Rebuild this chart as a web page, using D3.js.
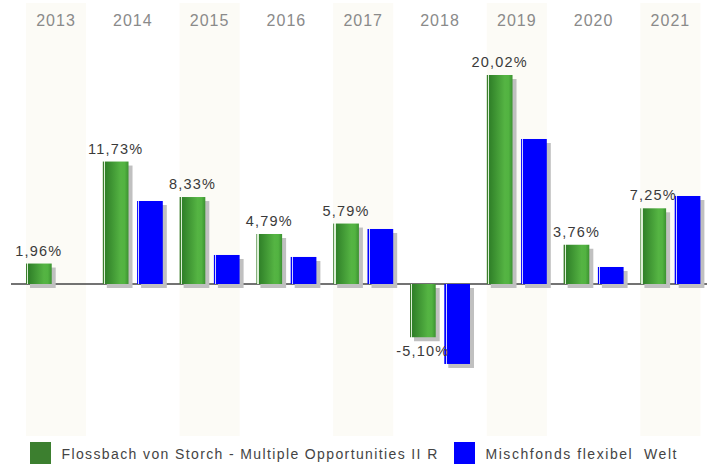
<!DOCTYPE html>
<html>
<head>
<meta charset="utf-8">
<script src="https://cdn.jsdelivr.net/npm/d3@7"></script>
<style>
  body { margin: 0; background: #fff; }
  text { font-family: "Liberation Sans", Arial, sans-serif; }
</style>
</head>
<body>
<div id="chart"></div>
<script>
// values (blue series has no 2013 value)
const years = ["2013", "2014", "2015", "2016", "2017", "2018", "2019", "2020", "2021"];
const fundValues = [1.96, 11.73, 8.33, 4.79, 5.79, -5.10, 20.02, 3.76, 7.25];
const peerValues = [null, 7.95, 2.78, 2.59, 5.27, -7.66, 13.89, 1.63, 8.43];
const seriesNames = ["Flossbach von Storch - Multiple Opportunities II R", "Mischfonds flexibel  Welt"];

const width = 707, height = 464;

const svg = d3.select("#chart").append("svg")
    .attr("width", width)
    .attr("height", height);

const defs = svg.append("defs");

// green bar: dark edge, thin light stripe, then shaded cylinder look
const gGreen = defs.append("linearGradient").attr("id", "gradGreen");
[["0%", "#3b7f2c"], ["4%", "#3b7f2c"], ["4.1%", "#dcefd6"], ["9%", "#dcefd6"],
 ["9.1%", "#2f7f28"], ["70%", "#55b443"], ["85%", "#52b341"], ["100%", "#3c9231"]]
  .forEach(s => gGreen.append("stop").attr("offset", s[0]).attr("stop-color", s[1]));

const gBlue = defs.append("linearGradient").attr("id", "gradBlue");
[["0%", "#0000ff"], ["5%", "#0000ff"], ["5.1%", "#d0d0ff"], ["9%", "#d0d0ff"],
 ["9.1%", "#0000ff"], ["100%", "#0000ff"]]
  .forEach(s => gBlue.append("stop").attr("offset", s[0]).attr("stop-color", s[1]));

const x0 = d3.scaleBand()
    .domain(years)
    .range([26, 700.4])
    .paddingInner(0.21875)
    .paddingOuter(0);

const x1 = d3.scaleBand()
    .domain([0, 1])
    .range([0, x0.bandwidth()])
    .paddingInner(0.25);

const y = d3.scaleLinear()
    .domain([-14, 22])
    .range([284 + 14 * 10.44, 284 - 22 * 10.44]);

// shaded columns every other year
svg.append("g")
  .selectAll("rect")
  .data(years.filter((d, i) => i % 2 === 0))
  .enter().append("rect")
    .attr("x", d => x0(d))
    .attr("y", 3)
    .attr("width", x0.bandwidth())
    .attr("height", 433)
    .attr("fill", "#fcfbf6");

// year labels on top
svg.append("g")
  .selectAll("text")
  .data(years)
  .enter().append("text")
    .attr("x", d => x0(d) + x0.bandwidth() / 2)
    .attr("y", 26)
    .attr("text-anchor", "middle")
    .style("font-size", "16px")
    .style("letter-spacing", "1px")
    .style("fill", "#8a8a8a")
    .text(d => d);

// zero line
svg.append("line")
    .attr("x1", 11).attr("x2", 707)
    .attr("y1", y(0)).attr("y2", y(0))
    .attr("stroke", "#444")
    .attr("stroke-width", 1.6);

const rows = [];
years.forEach((yr, i) => {
  rows.push({ year: yr, s: 0, v: fundValues[i] });
  if (peerValues[i] !== null) rows.push({ year: yr, s: 1, v: peerValues[i] });
});

// shadows
svg.append("g")
  .selectAll("rect")
  .data(rows)
  .enter().append("rect")
    .attr("x", d => x0(d.year) + x1(d.s) + 4)
    .attr("y", d => Math.min(y(d.v), y(0)) + 4)
    .attr("width", x1.bandwidth())
    .attr("height", d => Math.abs(y(d.v) - y(0)))
    .attr("fill", "#c0c0c0");

// bars
svg.append("g")
  .selectAll("rect")
  .data(rows)
  .enter().append("rect")
    .attr("x", d => x0(d.year) + x1(d.s))
    .attr("y", d => Math.min(y(d.v), y(0)))
    .attr("width", x1.bandwidth())
    .attr("height", d => Math.abs(y(d.v) - y(0)))
    .attr("fill", d => d.s === 0 ? "url(#gradGreen)" : "url(#gradBlue)");

// value labels for the fund
svg.append("g")
  .selectAll("text")
  .data(rows.filter(d => d.s === 0))
  .enter().append("text")
    .attr("x", d => x0(d.year) + x1(0) + x1.bandwidth() / 2)
    .attr("y", d => d.v >= 0 ? y(d.v) - 8 : y(d.v) + 19)
    .attr("text-anchor", "middle")
    .style("font-size", "14.5px")
    .style("letter-spacing", "1.2px")
    .style("fill", "#3a3a3a")
    .text(d => d.v.toFixed(2).replace(".", ",") + "%");

// legend
const legend = svg.append("g");
const legendX = [30, 454];
const legendW = [376, 191];   // text widths measured on the reference
const legendColors = ["#3c7f2f", "#0000ff"];
seriesNames.forEach((name, i) => {
  legend.append("rect")
    .attr("x", legendX[i]).attr("y", 442)
    .attr("width", 21).attr("height", 22)
    .attr("fill", legendColors[i]);
  const t = legend.append("text")
    .attr("x", legendX[i] + 31.5).attr("y", 459)
    .attr("xml:space", "preserve")
    .style("font-size", "14px")
    .style("white-space", "pre")
    .style("fill", "#444")
    .text(name);
  // spread letters so the label takes the same room as in the original
  const w = t.node().getComputedTextLength();
  const ls = (legendW[i] - w) / (name.length - 1);
  t.style("letter-spacing", ls.toFixed(2) + "px");
});
</script>
</body>
</html>
